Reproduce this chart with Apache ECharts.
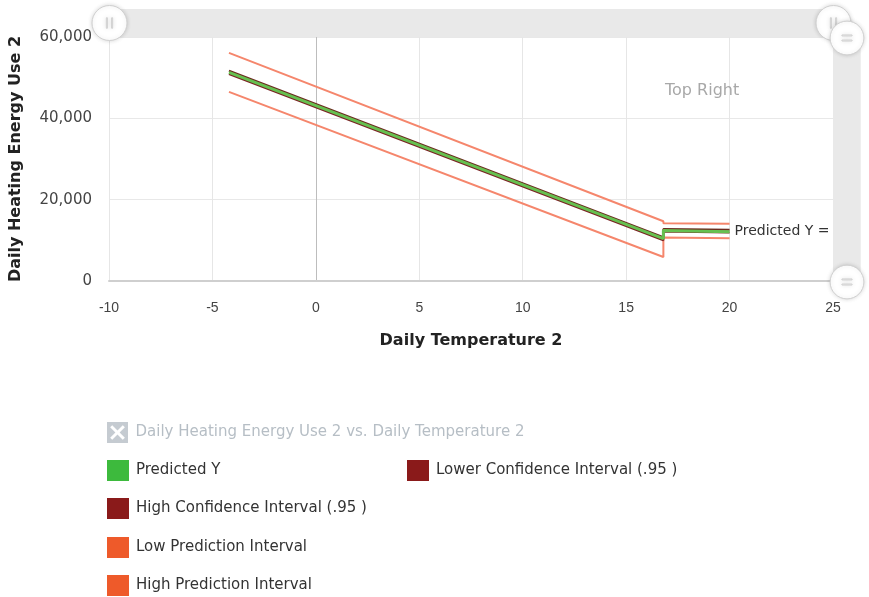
<!DOCTYPE html>
<html>
<head>
<meta charset="utf-8">
<script src="https://cdn.jsdelivr.net/npm/echarts@6/dist/echarts.min.js"></script>
<style>
html,body{margin:0;padding:0;background:#fff;}
#chart{width:869px;height:597px;}
</style>
</head>
<body>
<div id="chart"></div>
<script>
// ---- data ----
const temperature = [-4.2, 16.8, 16.8, 20];
const predictedY = [51300, 10400, 12400, 12100];
const lowerCI = [50900, 10000, 12200, 11900];
const highCI = [51700, 10800, 12800, 12600];
const lowPI = [46500, 5900, 10700, 10500];
const highPI = [56100, 14700, 14200, 14100];
const observed = []; // scatter series hidden in legend

const xTicks = { min: -10, max: 25, interval: 5 };
const yTicks = { min: 0, max: 60000, interval: 20000 };

const names = {
  scatter: 'Daily Heating Energy Use 2 vs. Daily Temperature 2',
  pred: 'Predicted Y',
  lci: 'Lower Confidence Interval (.95 )',
  hci: 'High Confidence Interval (.95 )',
  lpi: 'Low Prediction Interval',
  hpi: 'High Prediction Interval'
};

function pairs(xs, ys) { return xs.map((x, i) => [x, ys[i]]); }

const FONT = 'DejaVu Sans';
const GREEN = '#3dba3d', DARK = '#8a1a1a', ORANGE = '#ee5a2a', ORANGE_LINE = '#f5866c';

const boxX = 'path://M0,0H20V20H0Z M3,5L8,10L3,15L5,17L10,12L15,17L17,15L12,10L17,5L15,3L10,8L5,3Z';
const gripHandle = 'path://M10,0A10,10,0,1,1,10,20A10,10,0,1,1,10,0Z M8.2,7H8.8V13H8.2Z M11.2,7H11.8V13H11.2Z';

function legendAt(name, left, top, extra) {
  return Object.assign({
    data: [name], left: left, top: top, orient: 'horizontal',
    itemWidth: 22, itemHeight: 21, itemGap: 0, icon: 'rect',
    textStyle: { fontFamily: FONT, fontSize: 15, color: '#333', padding: [0, 0, 0, 2] },
    inactiveColor: '#b6bec5', selectedMode: true, padding: 0
  }, extra || {});
}

const chart = echarts.init(document.getElementById('chart'), null, { renderer: 'canvas' });
const xSplitColors = ['#e6e6e6', '#e6e6e6', '#bdbdbd', '#e6e6e6', '#e6e6e6', '#e6e6e6', '#e6e6e6', '#e6e6e6'];

const sliderCommon = {
  filterMode: 'none', showDetail: false, showDataShadow: false, brushSelect: false, moveHandleSize: 0,
  backgroundColor: '#e9e9e9', fillerColor: '#e9e9e9', borderColor: 'transparent',
  handleIcon: gripHandle, handleSize: '125%',
  handleStyle: { color: '#fff', borderColor: '#d0d0d0', borderWidth: 1, shadowBlur: 4, shadowColor: 'rgba(0,0,0,0.15)' },
  dataBackground: { lineStyle: { opacity: 0 }, areaStyle: { opacity: 0 } }
};

chart.setOption({
  animation: false,
  backgroundColor: '#fff',
  textStyle: { fontFamily: FONT },
  title: {
    text: 'Top Right', left: 660, top: 78,
    textStyle: { fontFamily: FONT, fontSize: 16, fontWeight: 'normal', color: '#a8a8a8' }
  },
  grid: { left: 107, right: 36, top: 37, bottom: 316, containLabel: false },
  xAxis: {
    type: 'value', min: xTicks.min, max: xTicks.max, interval: xTicks.interval,
    name: 'Daily Temperature 2', nameLocation: 'middle', nameGap: 52,
    nameTextStyle: { fontFamily: FONT, fontSize: 16, fontWeight: 'bold', color: '#222' },
    axisLine: { show: true, onZero: false, lineStyle: { color: '#cfcfcf', width: 2 } },
    axisTick: { show: false },
    axisLabel: { margin: 20, fontFamily: 'Liberation Sans', fontSize: 14, color: '#444' },
    splitLine: { show: true, lineStyle: { color: xSplitColors, width: 1 } }
  },
  yAxis: {
    type: 'value', min: yTicks.min, max: yTicks.max, interval: yTicks.interval,
    name: 'Daily Heating Energy Use 2', nameLocation: 'middle', nameGap: 85,
    nameTextStyle: { fontFamily: FONT, fontSize: 16, fontWeight: 'bold', color: '#222' },
    axisLine: { show: false },
    axisTick: { show: false },
    axisLabel: { margin: 17, fontFamily: FONT, fontSize: 15, color: '#444' },
    splitLine: { show: true, lineStyle: { color: '#e8e8e8', width: 1 } }
  },
  dataZoom: [
    Object.assign({ type: 'slider', xAxisIndex: 0, orient: 'horizontal', left: 107, right: 36, top: 9, height: 28 }, sliderCommon),
    Object.assign({ type: 'slider', yAxisIndex: 0, orient: 'vertical', right: 9, width: 27, top: 37, bottom: 314 }, sliderCommon)
  ],
  legend: [
    legendAt(names.scatter, 107, 422, { icon: boxX, selected: { [names.scatter]: false } }),
    legendAt(names.pred, 107, 460),
    legendAt(names.lci, 407, 460),
    legendAt(names.hci, 107, 498),
    legendAt(names.lpi, 107, 537),
    legendAt(names.hpi, 107, 575)
  ],
  series: [
    { name: names.scatter, type: 'scatter', data: observed, itemStyle: { color: '#6a8fb5' } },
    { name: names.hpi, type: 'line', data: pairs(temperature, highPI), showSymbol: false,
      itemStyle: { color: ORANGE }, lineStyle: { color: ORANGE_LINE, width: 2 } },
    { name: names.lpi, type: 'line', data: pairs(temperature, lowPI), showSymbol: false,
      itemStyle: { color: ORANGE }, lineStyle: { color: ORANGE_LINE, width: 2 } },
    { name: names.lci, type: 'line', data: pairs(temperature, lowerCI), showSymbol: false,
      itemStyle: { color: DARK }, lineStyle: { color: '#7a2222', width: 2 } },
    { name: names.hci, type: 'line', data: pairs(temperature, highCI), showSymbol: false,
      itemStyle: { color: DARK }, lineStyle: { color: '#6b2a1e', width: 2 } },
    { name: names.pred, type: 'line', data: pairs(temperature, predictedY), showSymbol: false,
      itemStyle: { color: GREEN }, lineStyle: { color: '#66c050', width: 3 },
      endLabel: { show: true, formatter: 'Predicted Y =', fontFamily: FONT, fontSize: 14, color: '#333', distance: 5 } }
  ]
});
</script>
</body>
</html>
